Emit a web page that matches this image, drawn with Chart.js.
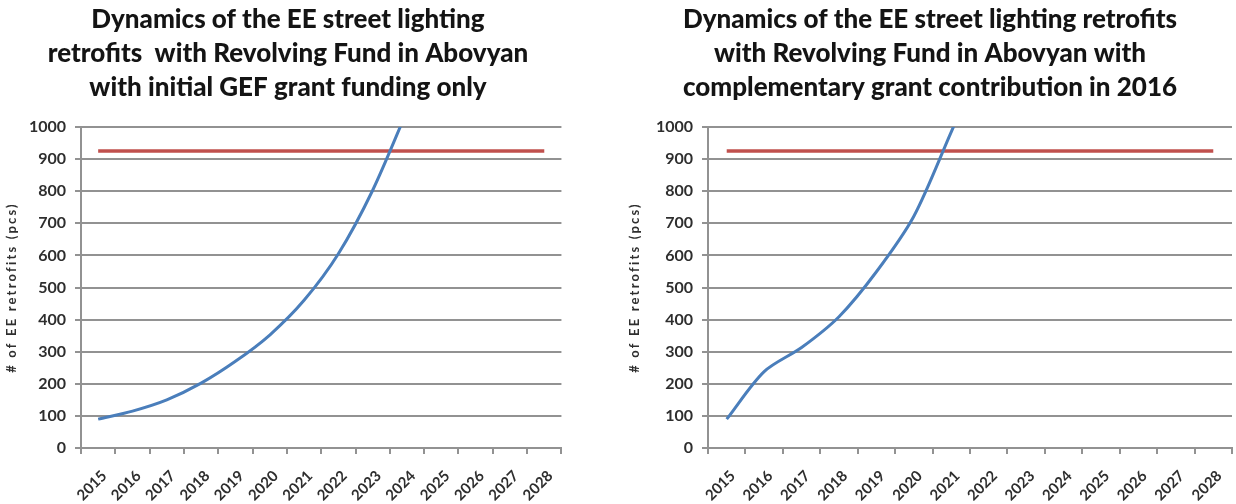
<!DOCTYPE html>
<html>
<head>
<meta charset="utf-8">
<script src="https://cdn.jsdelivr.net/npm/chart.js@4.4.1/dist/chart.umd.min.js"></script>
<style>
  html, body { margin: 0; padding: 0; background: #ffffff; overflow: hidden; width: 1236px; height: 504px; }
  canvas { position: absolute; top: 0; }
  #leftChart { left: 0; }
  #rightChart { left: 618px; }
</style>
</head>
<body>
<canvas id="leftChart" width="570" height="504"></canvas>
<canvas id="rightChart" width="621" height="504"></canvas>
<script>
// Years on the horizontal axis
const years = ['2015', '2016', '2017', '2018', '2019', '2020', '2021',
               '2022', '2023', '2024', '2025', '2026', '2027', '2028'];

// Cumulative retrofitted poles, revolving fund seeded by the GEF grant only
const gefOnlyRetrofits = [90, 115, 150, 202, 270, 352, 460, 605, 803, 1050,
                          null, null, null, null];

// Cumulative retrofitted poles, with an extra grant contribution in 2016
const withGrantRetrofits = [90, 238, 313, 409, 549, 722, 985, 1250,
                            null, null, null, null, null, null];

// Total number of street lighting poles in Abovyan
const totalPoles = [925, 925, 925, 925, 925, 925, 925,
                    925, 925, 925, 925, 925, 925, 925];

// Value axis ticks
const yMin = 0;
const yMax = 1000;
const yStep = 100;

const leftTitle = ['Dynamics of the EE street lighting',
                   'retrofits  with Revolving Fund in Abovyan',
                   'with initial GEF grant funding only'];
const rightTitle = ['Dynamics of the EE street lighting retrofits',
                    'with Revolving Fund in Abovyan with',
                    'complementary grant contribution in 2016'];
const yAxisLabel = '# of EE retrofits (pcs)';

const gridGrey = '#929292';
const textGrey = '#2e2e2e';
const fontStack = 'Lato, "Liberation Sans", sans-serif';

// Vertical axis caption, drawn with a little letter spacing
const yCaption = {
  id: 'yCaption',
  afterDraw(chart, args, opts) {
    const { ctx, chartArea } = chart;
    ctx.save();
    ctx.font = 'bold 13px ' + fontStack;
    ctx.fillStyle = textGrey;
    if ('letterSpacing' in ctx) ctx.letterSpacing = '2.2px';
    ctx.textAlign = 'center';
    ctx.textBaseline = 'middle';
    ctx.translate(opts.x, (chartArea.top + chartArea.bottom) / 2);
    ctx.rotate(-Math.PI / 2);
    ctx.fillText(opts.text, 0, 0);
    ctx.restore();
  }
};

function buildChart(canvasId, titleLines, retrofits, padLeft, axisWidth, captionX) {
  return new Chart(document.getElementById(canvasId), {
    type: 'line',
    data: {
      labels: years,
      datasets: [
        {
          label: 'Retrofitted poles',
          data: retrofits,
          borderColor: '#4a7ebb',
          borderWidth: 3,
          pointRadius: 0,
          tension: 0.3,
          fill: false
        },
        {
          label: 'Total poles',
          data: totalPoles,
          borderColor: '#c0504d',
          borderWidth: 3.5,
          pointRadius: 0,
          tension: 0,
          fill: false
        }
      ]
    },
    options: {
      responsive: false,
      maintainAspectRatio: false,
      animation: false,
      devicePixelRatio: 1,
      layout: { padding: { left: padLeft, right: 0, top: 0, bottom: 0 } },
      plugins: {
        legend: { display: false },
        tooltip: { enabled: false },
        title: {
          display: true,
          text: titleLines,
          color: '#141414',
          font: { family: fontStack, size: 26, weight: 900, lineHeight: 34 / 26 },
          padding: { top: 3, bottom: 22 }
        },
        yCaption: { text: yAxisLabel, x: captionX }
      },
      scales: {
        x: {
          type: 'category',
          offset: true,
          afterFit(scale) { scale.height = 56; },
          grid: {
            display: true,
            offset: true,
            drawOnChartArea: false,
            drawTicks: true,
            tickLength: 6,
            color: gridGrey,
            lineWidth: 2
          },
          border: { display: true, color: gridGrey, width: 2 },
          ticks: {
            autoSkip: false,
            minRotation: 45,
            maxRotation: 45,
            padding: 13,
            labelOffset: 6,
            color: textGrey,
            font: { family: fontStack, size: 15, weight: 'bold' }
          }
        },
        y: {
          min: yMin,
          max: yMax,
          afterFit(scale) { scale.width = axisWidth; },
          grid: {
            color: gridGrey,
            lineWidth: 2,
            drawTicks: true,
            tickLength: 6
          },
          border: { display: true, color: gridGrey, width: 2 },
          ticks: {
            stepSize: yStep,
            padding: 9,
            color: textGrey,
            callback: (value) => String(value),
            font: { family: fontStack, size: 16, weight: 'bold' }
          }
        }
      }
    },
    plugins: [yCaption]
  });
}

buildChart('leftChart', leftTitle, gefOnlyRetrofits, 6, 75, 12);
buildChart('rightChart', rightTitle, withGrantRetrofits, 3, 87, 17);
</script>
</body>
</html>
